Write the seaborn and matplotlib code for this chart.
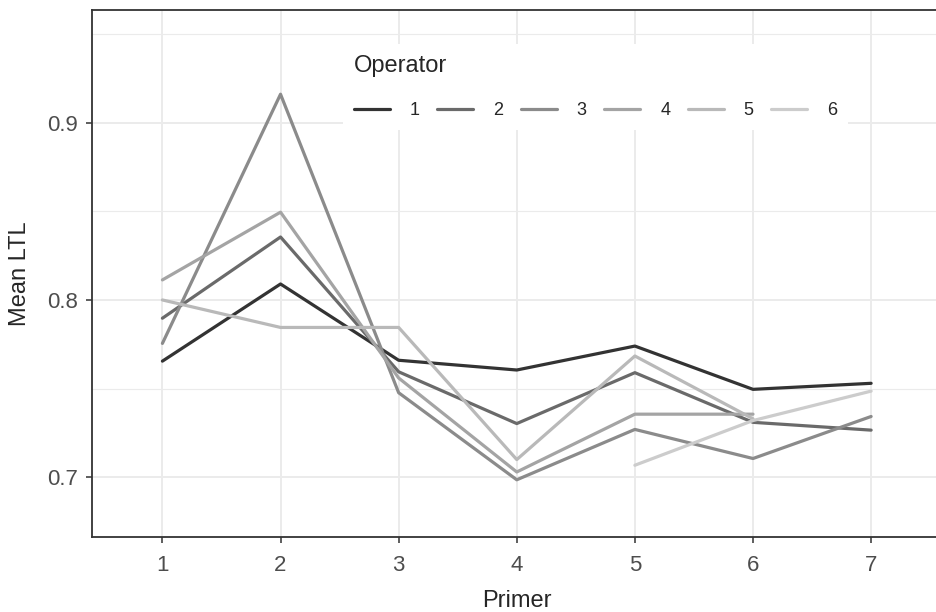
import numpy as np
import pandas as pd
import seaborn as sns
import matplotlib.pyplot as plt
from matplotlib.ticker import MultipleLocator

# values
primers = [1, 2, 3, 4, 5, 6, 7]
operators = ["1", "2", "3", "4", "5", "6"]
op1 = [0.7655, 0.8090, 0.7660, 0.7605, 0.7740, 0.7496, 0.7530]
op2 = [0.7897, 0.8355, 0.7595, 0.7303, 0.7590, 0.7310, 0.7266]
op3 = [0.7755, 0.9160, 0.7477, 0.6986, 0.7270, 0.7106, 0.7343]
op4 = [0.8113, 0.8495, 0.7560, 0.7030, 0.7356, 0.7356, np.nan]
op5 = [0.8000, 0.7845, 0.7845, 0.7100, 0.7684, 0.7330, np.nan]
op6 = [np.nan, np.nan, np.nan, np.nan, 0.7068, 0.7320, 0.7486]
grey_colors = ["#333333", "#6A6A6A", "#8B8B8B", "#A4A4A4", "#B9B9B9", "#CCCCCC"]


def build_frame():
    rows = []
    for op, vals in zip(operators, [op1, op2, op3, op4, op5, op6]):
        for p, v in zip(primers, vals):
            rows.append({"Primer": p, "Operator": op, "Mean LTL": v})
    return pd.DataFrame(rows).dropna()


def main():
    sns.set_theme(style="white")
    plt.rcParams["font.family"] = ["Liberation Sans", "DejaVu Sans"]

    df = build_frame()

    fig = plt.figure(figsize=(9.36, 6.12), dpi=100)
    ax = fig.add_axes([0.0978, 0.123, 0.9086, 0.8607])

    sns.lineplot(data=df, x="Primer", y="Mean LTL", hue="Operator",
                 hue_order=operators, palette=grey_colors, linewidth=2.3,
                 estimator=None, sort=True, ax=ax)

    # theme_bw style panel
    ax.set_xlim(0.4, 7.6)
    ax.set_ylim(0.6665, 0.9635)
    ax.set_xticks(primers)
    ax.yaxis.set_major_locator(MultipleLocator(0.1))
    ax.yaxis.set_minor_locator(MultipleLocator(0.05))
    ax.yaxis.set_major_formatter(plt.FuncFormatter(lambda v, _: f"{v:.1f}"))
    ax.grid(True, which="major", color="#EBEBEB", linewidth=1.4)
    ax.grid(True, which="minor", axis="y", color="#EBEBEB", linewidth=0.8)
    ax.set_axisbelow(True)
    for s in ax.spines.values():
        s.set_color("#333333")
        s.set_linewidth(1.3)
    ax.tick_params(axis="both", which="major", length=4, width=1.1,
                   color="#333333", labelsize=16, labelcolor="#4D4D4D",
                   pad=6, left=True, bottom=True, direction="out")
    ax.tick_params(axis="x", which="major", pad=9)
    ax.tick_params(axis="y", which="minor", length=0)

    ax.set_xlabel("Primer", fontsize=17, labelpad=10)
    ax.set_ylabel("Mean LTL", fontsize=17, labelpad=11)

    handles, labels = ax.get_legend_handles_labels()
    ax.get_legend().remove()
    leg = ax.legend(handles, labels, title="Operator", ncol=6,
                    loc="upper left", bbox_to_anchor=(0.285, 0.952),
                    frameon=True, fontsize=13, title_fontsize=17,
                    handlelength=2.0, handletextpad=1.1, columnspacing=0.97,
                    labelspacing=1.4, borderpad=0.6, alignment="left")
    leg.get_frame().set_facecolor("white")
    leg.get_frame().set_edgecolor("none")
    leg.get_frame().set_alpha(1)
    for line in leg.get_lines():
        line.set_linewidth(2.3)

    fig.savefig("out.png", dpi=100)


if __name__ == "__main__":
    main()
